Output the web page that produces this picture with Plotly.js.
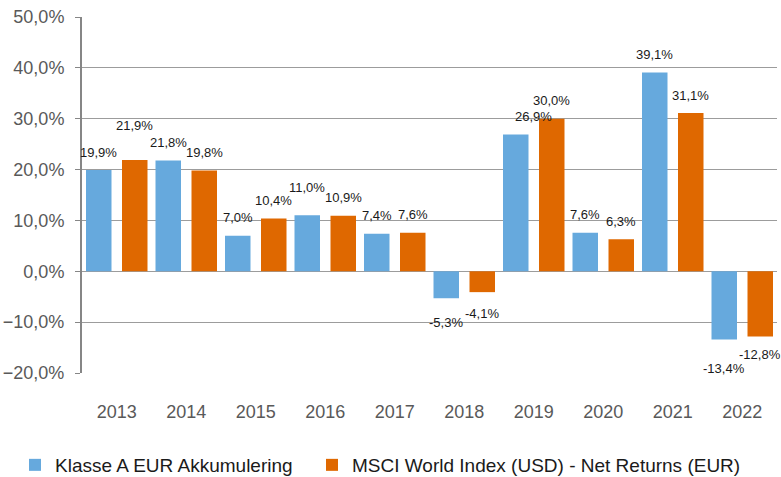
<!DOCTYPE html>
<html>
<head>
<meta charset="utf-8">
<script src="https://cdn.plot.ly/plotly-3.0.1.min.js"></script>
<style>html,body{margin:0;padding:0;background:#fff}#chart{width:781px;height:477px}</style>
</head>
<body>
<div id="chart"></div>
<script>
// ---- data ----
const years = ["2013","2014","2015","2016","2017","2018","2019","2020","2021","2022"];
const seriesA = [19.9, 21.8, 7.0, 11.0, 7.4, -5.3, 26.9, 7.6, 39.1, -13.4];
const seriesB = [21.9, 19.8, 10.4, 10.9, 7.6, -4.1, 30.0, 6.3, 31.1, -12.8];
const nameA = "Klasse A EUR Akkumulering";
const nameB = "MSCI World Index (USD) - Net Returns (EUR)";

// ---- styling ----
const blue = "#66A9DD";
const orange = "#DF6800";
const fontFam = "Liberation Sans, Arial, sans-serif";
const catPx = 69.5, halfSep = 18, barPx = 25.5;
const barW = barPx / catPx;
// extra label nudges (px) for labels that sit away from default spot
const nudge = {A5: {dy: -6}, B5: {dy: -3}, B0: {dy: 16}, A3: {dy: 10}, A6: {dx: 18}, A9: {dy: -11}};

function fmt(v) { return v.toFixed(1).replace('.', ',') + '%'; }

const traces = [
  {type: 'bar', name: nameA, x: years, y: seriesA, marker: {color: blue},
   width: barW, offset: (-halfSep - barPx / 2) / catPx, hoverinfo: 'skip', legend: 'legend'},
  {type: 'bar', name: nameB, x: years, y: seriesB, marker: {color: orange},
   width: barW, offset: (halfSep - barPx / 2) / catPx, hoverinfo: 'skip', legend: 'legend2'}
];

const annotations = [];
const groups = [
  {arr: seriesA, key: 'A', dx: -halfSep},
  {arr: seriesB, key: 'B', dx: halfSep}
];
for (const g of groups) {
  for (let i = 0; i < g.arr.length; i++) {
    const v = g.arr[i];
    const n = nudge[g.key + i] || {};
    const base = v >= 0 ? 18 : -18;
    annotations.push({
      xref: 'x', yref: 'y', x: i, y: v,
      text: fmt(v), showarrow: false,
      xshift: g.dx + (n.dx || 0), yshift: base + (n.dy || 0),
      font: {family: fontFam, size: 13, color: '#1a1a1a'}
    });
  }
}

const legendBase = {
  orientation: 'h', xref: 'container', yref: 'container',
  y: 1 - 465 / 477, xanchor: 'left', yanchor: 'middle',
  font: {family: fontFam, size: 19, color: '#1a1a1a'},
  bgcolor: 'rgba(0,0,0,0)'
};

const layout = {
  width: 781, height: 477,
  margin: {l: 82, r: 4, t: 17, b: 104},
  paper_bgcolor: '#fff', plot_bgcolor: '#fff',
  separators: ',.',
  barmode: 'overlay',
  showlegend: true,
  font: {family: fontFam, size: 18, color: '#595959'},
  xaxis: {
    type: 'category', range: [-0.5, 9.5], showgrid: false, zeroline: false, showline: false,
    ticks: 'outside', ticklen: 0, ticklabelstandoff: 22,
    tickfont: {family: fontFam, size: 18, color: '#595959'}
  },
  yaxis: {
    range: [-20, 50], dtick: 10, tickformat: '.1f', ticksuffix: '%',
    showgrid: true, gridcolor: '#9c9c9c', gridwidth: 1,
    zeroline: true, zerolinecolor: '#9c9c9c', zerolinewidth: 1,
    showline: true, linecolor: '#868686', linewidth: 2,
    ticks: 'outside', ticklen: 5, tickcolor: '#868686', tickwidth: 1,
    ticklabelstandoff: 7,
    tickfont: {family: fontFam, size: 18, color: '#595959'}
  },
  legend: Object.assign({}, legendBase, {x: 15 / 781}),
  legend2: Object.assign({}, legendBase, {x: 312 / 781}),
  annotations: annotations
};

Plotly.newPlot('chart', traces, layout, {displayModeBar: false});
</script>
</body>
</html>
